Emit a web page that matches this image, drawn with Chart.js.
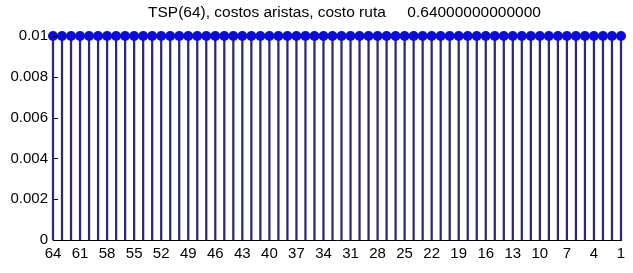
<!DOCTYPE html>
<html>
<head>
<meta charset="utf-8">
<script src="https://cdn.jsdelivr.net/npm/chart.js@4.4.0/dist/chart.umd.min.js"></script>
<style>
  html, body { margin: 0; padding: 0; background: #fff; }
  #wrap { width: 633px; height: 273px; }
</style>
</head>
<body>
<div id="wrap"><canvas id="tspChart"></canvas></div>
<script>

// posiciones 1..64, costo de cada arista
var positions = [1,2,3,4,5,6,7,8,9,10,11,12,13,14,15,16,17,18,19,20,21,22,23,24,25,26,27,28,29,30,31,32,
                 33,34,35,36,37,38,39,40,41,42,43,44,45,46,47,48,49,50,51,52,53,54,55,56,57,58,59,60,61,62,63,64];
var costs = [0.01,0.01,0.01,0.01,0.01,0.01,0.01,0.01,0.01,0.01,0.01,0.01,0.01,0.01,0.01,0.01,
             0.01,0.01,0.01,0.01,0.01,0.01,0.01,0.01,0.01,0.01,0.01,0.01,0.01,0.01,0.01,0.01,
             0.01,0.01,0.01,0.01,0.01,0.01,0.01,0.01,0.01,0.01,0.01,0.01,0.01,0.01,0.01,0.01,
             0.01,0.01,0.01,0.01,0.01,0.01,0.01,0.01,0.01,0.01,0.01,0.01,0.01,0.01,0.01,0.01];

var xTickPos = [1,4,7,10,13,16,19,22,25,28,31,34,37,40,43,46,49,52,55,58,61,64];
var xTickLabels = ["64","61","58","55","52","49","46","43","40","37","34","31","28","25","22","19","16","13","10","7","4","1"];
var yTickPos = [0,0.002,0.004,0.006,0.008,0.01];
var yTickLabels = ["0","0.002","0.004","0.006","0.008","0.01"];

var titleText = "TSP(64), costos aristas, costo ruta     0.64000000000000";

function init(){

  var stemData = positions.map(function(p, i){ return {x: p, y: costs[i]}; });

  // ticks hacia adentro, estilo matlab
  var innerTicks = {
    id: 'innerTicks',
    afterLayout: function(chart){
      // titulo centrado sobre el area de ejes (un poco a la derecha)
      var tb = chart.titleBlock;
      if (tb) { tb.left += 34; tb.right += 34; }
    },
    afterDatasetsDraw: function(chart){
      var ctx = chart.ctx, y = chart.scales.y, area = chart.chartArea;
      ctx.save();
      ctx.strokeStyle = '#000';
      ctx.lineWidth = 1;
      yTickPos.forEach(function(v){
        var py = Math.round(y.getPixelForValue(v)) + 0.5;
        ctx.beginPath();
        ctx.moveTo(area.left, py);
        ctx.lineTo(area.left + 5, py);
        ctx.stroke();
      });
      ctx.restore();
    }
  };

  var ctx = document.getElementById('tspChart').getContext('2d');
  var chart = new Chart(ctx, {
    type: 'bar',
    data: {
      datasets: [{
        type: 'line',
        data: stemData,
        showLine: false,
        pointRadius: 5,
        pointBackgroundColor: '#0b0bdc',
        pointBorderColor: '#0b0bdc',
        pointBorderWidth: 0,
        clip: false,
        order: 0
      }, {
        type: 'bar',
        data: stemData,
        backgroundColor: '#2a2a72',
        barThickness: 1.6,
        clip: false,
        order: 1
      }]
    },
    options: {
      responsive: true,
      maintainAspectRatio: false,
      animation: false,
      layout: { padding: { left: 0, right: 12, top: 0, bottom: 0 } },
      plugins: {
        legend: { display: false },
        tooltip: { enabled: false },
        title: {
          display: true,
          text: titleText,
          color: '#000',
          font: { family: "'Liberation Sans', Arial, sans-serif", size: 15.5, weight: 'normal' },
          padding: { top: 3, bottom: 14.4 }
        }
      },
      scales: {
        x: {
          type: 'linear',
          min: 1,
          max: 64,
          offset: false,
          grid: { display: false, drawTicks: false },
          border: { display: true, color: '#000', width: 1 },
          afterBuildTicks: function(scale){
            scale.ticks = xTickPos.map(function(v){ return {value: v}; });
          },
          afterFit: function(scale){ scale.height = 33; },
          ticks: {
            autoSkip: false,
            maxRotation: 0,
            padding: 5,
            color: '#000',
            font: { family: "'Liberation Sans', Arial, sans-serif", size: 15 },
            callback: function(v, i){ return xTickLabels[i]; }
          }
        },
        y: {
          min: 0,
          max: 0.01,
          grid: { display: false, drawTicks: false },
          border: { display: true, color: '#000', width: 1 },
          afterBuildTicks: function(scale){
            scale.ticks = yTickPos.map(function(v){ return {value: v}; });
          },
          afterFit: function(scale){ scale.width = 53; },
          ticks: {
            padding: 5,
            color: '#000',
            font: { family: "'Liberation Sans', Arial, sans-serif", size: 15 },
            callback: function(v, i){ return yTickLabels[i]; }
          }
        }
      }
    },
    plugins: [innerTicks]
  });
}

init();
</script>
</body>
</html>
